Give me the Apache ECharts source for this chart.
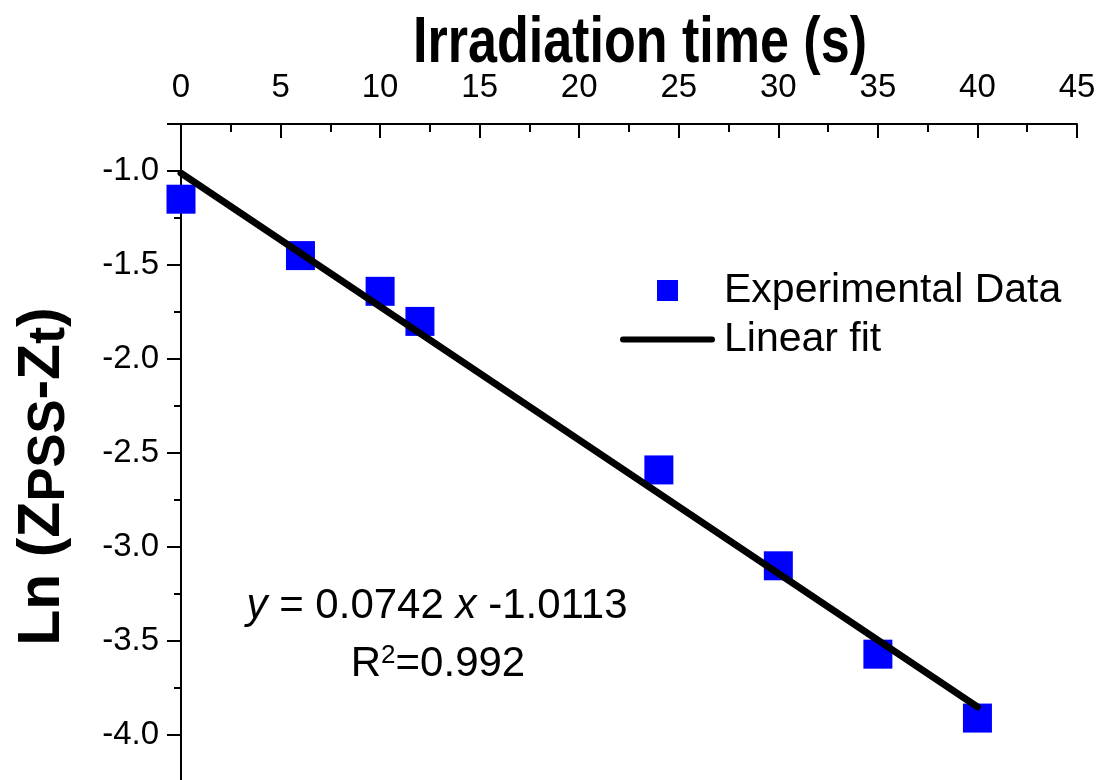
<!DOCTYPE html>
<html>
<head>
<meta charset="utf-8">
<script src="https://cdn.jsdelivr.net/npm/echarts@6/dist/echarts.min.js"></script>
<style>
  html, body { margin: 0; padding: 0; width: 1100px; height: 780px; overflow: hidden; background: #fff; }
  #chart { width: 1100px; height: 830px; }
</style>
</head>
<body>
<div id="chart"></div>
<script>
// Irradiation time (s) of each measurement
const timeValues = [0, 6, 10, 12, 24, 30, 35, 40];
// Ln(Z_PSS - Z_t) measured at each time
const lnValues = [-1.15, -1.45, -1.64, -1.80, -2.59, -3.10, -3.57, -3.91];
// End points of the linear fit line
const fitX = [0, 40];
const fitY = [-1.0113, -3.85];
// Axis tick labels
const xTickLabels = ['0', '5', '10', '15', '20', '25', '30', '35', '40', '45'];
const yTickLabels = ['-4.0', '-3.5', '-3.0', '-2.5', '-2.0', '-1.5', '-1.0'];
// Titles and fit annotation
const xTitle = 'Irradiation time (s)';
const yTitle = 'Ln ({b|Z}{sub|PSS}{b|-Z}{sub|t})';
const equationText = '{i|y} = 0.0742 {i|x} -1.0113';
const r2Text = 'R{sup|2}=0.992';

const FONT = "'Liberation Sans', Arial, sans-serif";
// Legend glyphs: a square for the points, a round-capped bar for the fit line
const SQUARE_ICON = 'path://M0,0H10V10H0Z';
const LINE_ICON = 'path://M3,0H92A3,3 0 0 1 92,6H3A3,3 0 0 1 3,0Z';

const scatterData = timeValues.map((t, i) => [t, lnValues[i]]);
const fitData = fitX.map((t, i) => [t, fitY[i]]);

const chart = echarts.init(document.getElementById('chart'), null, { renderer: 'canvas' });

chart.setOption({
  backgroundColor: '#fff',
  animation: false,
  grid: { left: 181, right: 23, top: 124, bottom: 1, containLabel: false },
  xAxis: {
    type: 'value',
    position: 'top',
    min: 0,
    max: 45,
    interval: 5,
    axisLine: { lineStyle: { color: '#000', width: 2 } },
    axisTick: { inside: true, length: 14, lineStyle: { color: '#000', width: 2 } },
    minorTick: { show: true, splitNumber: 2, length: 8, lineStyle: { color: '#000', width: 2 } },
    axisLabel: {
      margin: 20,
      fontFamily: FONT,
      fontSize: 33,
      color: '#000',
      formatter: (v) => xTickLabels[Math.round(v / 5)] ?? ''
    },
    splitLine: { show: false }
  },
  yAxis: {
    type: 'value',
    min: -4.5,
    max: -0.75,
    interval: 0.5,
    name: yTitle,
    nameLocation: 'middle',
    nameGap: 106,
    nameRotate: 90,
    nameTextStyle: {
      fontFamily: FONT, fontWeight: 'bold', fontSize: 59, color: '#000',
      rich: {
        b: { fontFamily: FONT, fontWeight: 'bold', fontSize: 59, color: '#000' },
        sub: { fontFamily: FONT, fontWeight: 'bold', fontSize: 51, color: '#000', verticalAlign: 'bottom', padding: [14, 0, 0, 0] }
      }
    },
    axisLine: { onZero: false, lineStyle: { color: '#000', width: 2 } },
    axisTick: { inside: false, length: 14, lineStyle: { color: '#000', width: 2 } },
    minorTick: { show: true, splitNumber: 2, length: 7, lineStyle: { color: '#000', width: 2 } },
    axisLabel: {
      margin: 22,
      fontFamily: FONT,
      fontSize: 33,
      color: '#000',
      showMaxLabel: false,
      formatter: (v) => {
        const idx = Math.round((v + 4.0) / 0.5);
        return Math.abs(v + 4.0 - idx * 0.5) < 1e-6 && idx >= 0 ? (yTickLabels[idx] ?? '') : '';
      }
    },
    splitLine: { show: false }
  },
  legend: {
    orient: 'vertical',
    left: 615,
    top: 265,
    itemWidth: 95,
    itemHeight: 21,
    itemGap: 8,
    symbolKeepAspect: true,
    textStyle: { fontFamily: FONT, fontSize: 41, color: '#000', padding: [0, 0, 0, 4] },
    data: [
      { name: 'Experimental Data', icon: SQUARE_ICON, itemStyle: { color: '#0000ff', borderWidth: 0 } },
      { name: 'Linear fit', icon: LINE_ICON, itemStyle: { color: '#000', borderWidth: 0 } }
    ]
  },
  graphic: [
    {
      type: 'text',
      x: 640, y: 44,
      scaleX: 0.813,
      style: {
        text: xTitle,
        align: 'center', verticalAlign: 'middle',
        font: 'bold 64px ' + FONT,
        fill: '#000'
      }
    },
    {
      type: 'text',
      x: 437, y: 606,
      style: {
        text: equationText,
        align: 'center', verticalAlign: 'middle',
        font: '42px ' + FONT,
        fill: '#000',
        rich: { i: { fontFamily: FONT, fontSize: 42, fontStyle: 'italic', fill: '#000' } }
      }
    },
    {
      type: 'text',
      x: 438, y: 664,
      style: {
        text: r2Text,
        align: 'center', verticalAlign: 'middle',
        font: '42px ' + FONT,
        fill: '#000',
        rich: { sup: { fontFamily: FONT, fontSize: 26, fill: '#000', verticalAlign: 'top', padding: [0, 0, 14, 0] } }
      }
    }
  ],
  series: [
    {
      name: 'Experimental Data',
      type: 'scatter',
      data: scatterData,
      symbol: 'rect',
      symbolSize: 29,
      clip: true,
      itemStyle: { color: '#0000ff', opacity: 1 },
      z: 2
    },
    {
      name: 'Linear fit',
      type: 'line',
      data: fitData,
      symbol: 'none',
      clip: true,
      lineStyle: { color: '#000', width: 7, cap: 'round' },
      itemStyle: { color: '#000' },
      z: 3
    }
  ]
});
</script>
</body>
</html>
